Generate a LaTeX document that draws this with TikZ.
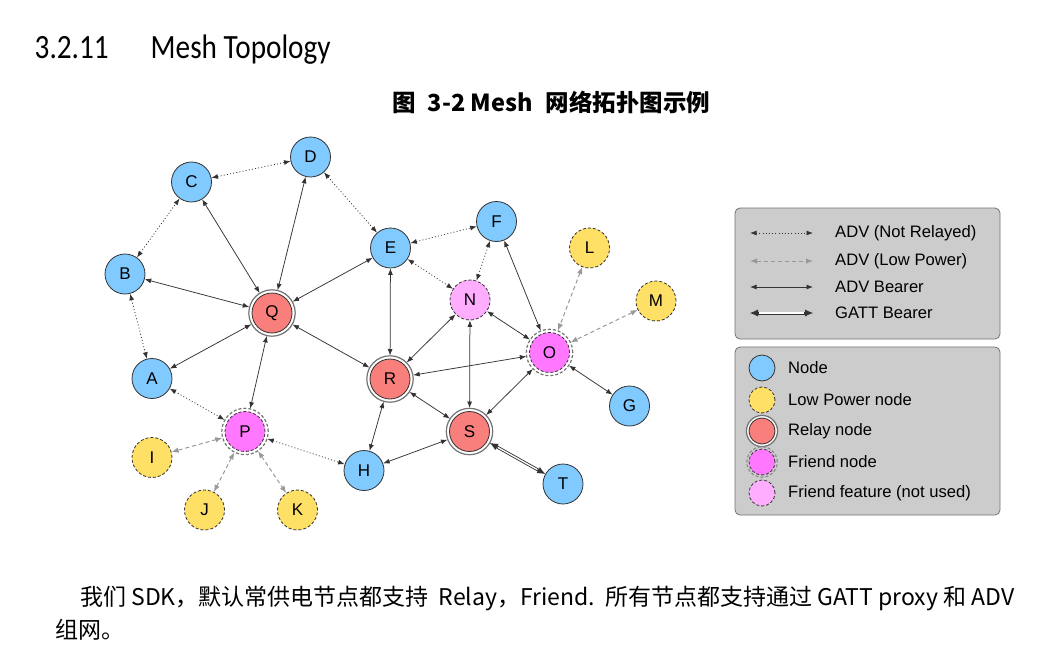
\documentclass[tikz,border=0pt]{standalone}
\usepackage{fontspec}
\setmainfont{Liberation Sans}
\newfontfamily\headfont[FakeStretch=0.86]{Carlito}
\newfontfamily\cjkfont{Noto Sans CJK SC}
\usetikzlibrary{arrows.meta}
\definecolor{cblue}{HTML}{80CAFF}
\definecolor{cyellow}{HTML}{FFE066}
\definecolor{cred}{HTML}{F87F7B}
\definecolor{cmag}{HTML}{FF78FF}
\definecolor{cpink}{HTML}{FFAEFF}
\definecolor{cline}{HTML}{333333}
\definecolor{cgrey}{HTML}{999999}
\definecolor{clegbg}{HTML}{CCCCCC}
\tikzset{
  nd/.style={circle, minimum size=40pt, inner sep=0pt, draw=cline, line width=0.8pt, font=\fontsize{17}{17}\selectfont},
  bluen/.style={nd, fill=cblue},
  lpn/.style={nd, fill=cyellow, dash pattern=on 3pt off 2pt},
  relayn/.style={nd, fill=cred, outer sep=3.5pt},
  friendn/.style={nd, fill=cmag, dash pattern=on 3pt off 2pt, outer sep=3.5pt},
  unusedn/.style={nd, fill=cpink, dash pattern=on 3pt off 2pt},
  relayring/.style={draw=black!55, line width=1.2pt},
  friendring/.style={draw=black!55, line width=1.2pt, dash pattern=on 3pt off 2pt},
  adv/.style={{Latex[length=6.5pt,width=5pt]}-{Latex[length=6.5pt,width=5pt]}, draw=cline, line width=0.75pt},
  advnr/.style={adv, dash pattern=on 1pt off 2.2pt},
  lpw/.style={{Latex[length=7pt,width=5.5pt]}-{Latex[length=7pt,width=5.5pt]}, draw=cgrey, line width=1pt, dash pattern=on 4pt off 3pt},
  gatt/.style={{Latex[length=8pt,width=7pt,line width=0pt]}-{Latex[length=8pt,width=7pt,line width=0pt]}, draw=cline, line width=3pt,
    postaction={draw=white, line width=1.3pt, -, shorten <=9pt, shorten >=9pt}},
  legbox/.style={draw=black!55, fill=clegbg, rounded corners=5pt, line width=0.8pt},
  legtext/.style={anchor=west, inner sep=0pt, font=\fontsize{16.6}{16.6}\selectfont},
  lnd/.style={circle, minimum size=26pt, inner sep=0pt, draw=cline, line width=0.8pt},
}
\begin{document}
\begin{tikzpicture}[x=1pt,y=-1pt]
\useasboundingbox (0,0) rectangle (1051,656);
\fill[white] (0,0) rectangle (1051,656);
% heading and caption
\node[anchor=base west, inner sep=0pt, font=\headfont\fontsize{34}{34}\selectfont] (head) at (34.5,58.3) {3.2.11\hspace{42pt}Mesh Topology};
\node[anchor=base west, inner sep=0pt, font=\cjkfont\bfseries\fontsize{23.5}{23.5}\selectfont] (cap) at (392,111) {图\hspace{12pt}3-2 Mesh\hspace{13pt}网络拓扑图示例};
% nodes
\node[bluen] (C) at (191.5,182) {C};
\node[bluen] (D) at (310.5,157) {D};
\node[bluen] (B) at (125,274) {B};
\node[bluen] (E) at (390.5,248) {E};
\node[bluen] (F) at (496.5,221.5) {F};
\node[lpn] (L) at (589.5,248) {L};
\node[lpn] (M) at (656,301) {M};
\node[unusedn] (N) at (470,300) {N};
\node[relayn] (Q) at (272,313) {Q};
\node[friendn] (O) at (549.5,352.5) {O};
\node[bluen] (A) at (152,378.5) {A};
\node[relayn] (R) at (390,379) {R};
\node[bluen] (G) at (629.5,406) {G};
\node[friendn] (P) at (245,431.5) {P};
\node[relayn] (S) at (469.5,431.5) {S};
\node[lpn] (I) at (152,457.5) {I};
\node[bluen] (H) at (364,470.5) {H};
\node[bluen] (T) at (563,484) {T};
\node[lpn] (J) at (204.5,510) {J};
\node[lpn] (K) at (297.5,510) {K};
\foreach \n in {Q,R,S} \draw[relayring] (\n.center) circle (23.2pt);
\foreach \n in {O,P} \draw[friendring] (\n.center) circle (23.2pt);
% ADV not relayed
\draw[advnr] (C) -- (D);
\draw[advnr] (B) -- (C);
\draw[advnr] (D) -- (E);
\draw[advnr] (B) -- (A);
\draw[advnr] (E) -- (F);
\draw[advnr] (E) -- (N);
\draw[advnr] (F) -- (N);
\draw[advnr] (A) -- (P);
\draw[advnr] (P) -- (H);
% low power
\draw[lpw] (L) -- (O);
\draw[lpw] (M) -- (O);
\draw[lpw] (P) -- (I);
\draw[lpw] (P) -- (J);
\draw[lpw] (P) -- (K);
% ADV bearer
\draw[adv] (C) -- (Q);
\draw[adv] (D) -- (Q);
\draw[adv] (B) -- (Q);
\draw[adv] (E) -- (Q);
\draw[adv] (A) -- (Q);
\draw[adv] (Q) -- (P);
\draw[adv] (Q) -- (R);
\draw[adv] (E) -- (R);
\draw[adv] (N) -- (R);
\draw[adv] (N) -- (S);
\draw[adv] (N) -- (O);
\draw[adv] (F) -- (O);
\draw[adv] (O) -- (R);
\draw[adv] (O) -- (S);
\draw[adv] (O) -- (G);
\draw[adv] (R) -- (S);
\draw[adv] (R) -- (H);
\draw[adv] (S) -- (H);
% GATT
\draw[gatt] (S) -- (T);
% legend 1
\draw[legbox] (735,208) rectangle (1000,339);
\foreach \i/\y in {1/233,2/261,3/287,4/313} {
  \coordinate (la\i) at (750,\y);
  \coordinate (lb\i) at (813,\y);
}
\draw[advnr] (la1) -- (lb1);
\draw[lpw] (la2) -- (lb2);
\draw[adv] (la3) -- (lb3);
\draw[gatt] (la4) -- (lb4);
\node[legtext] (t1) at (835,233) {ADV (Not Relayed)};
\node[legtext] (t2) at (835,261) {ADV (Low Power)};
\node[legtext] (t3) at (835,287) {ADV Bearer};
\node[legtext] (t4) at (835,313) {GATT Bearer};
% legend 2
\draw[legbox] (735,347) rectangle (1000,515);
\node[lnd, fill=cblue] (k1) at (762,368) {};
\node[lnd, fill=cyellow, dash pattern=on 3pt off 2pt] (k2) at (762,400) {};
\node[lnd, fill=cred] (k3) at (762,431) {};
\node[lnd, fill=cmag, dash pattern=on 3pt off 2pt] (k4) at (762,462) {};
\node[lnd, fill=cpink, dash pattern=on 3pt off 2pt] (k5) at (762,493) {};
\draw[draw=white, line width=1.2pt] (k3.center) circle (14.3pt);
\draw[relayring] (k3.center) circle (15.6pt);
\draw[friendring, draw=black!45] (k4.center) circle (15.2pt);
\node[legtext] (u1) at (788,368) {Node};
\node[legtext] (u2) at (788,400) {Low Power node};
\node[legtext] (u3) at (788,431) {Relay node};
\node[legtext] (u4) at (788,462) {Friend node};
\node[legtext] (u5) at (788,493) {Friend feature (not used)};
% body text
\node[anchor=base west, inner sep=0pt, font=\cjkfont\fontsize{23}{23}\selectfont] (body1) at (80,605) {我们 SDK，默认常供电节点都支持\hspace{10pt}Relay，Friend.\hspace{10pt}所有节点都支持通过 GATT proxy 和 ADV};
\node[anchor=base west, inner sep=0pt, font=\cjkfont\fontsize{23}{23}\selectfont] (body2) at (55,638) {组网。};
\end{tikzpicture}
\end{document}
